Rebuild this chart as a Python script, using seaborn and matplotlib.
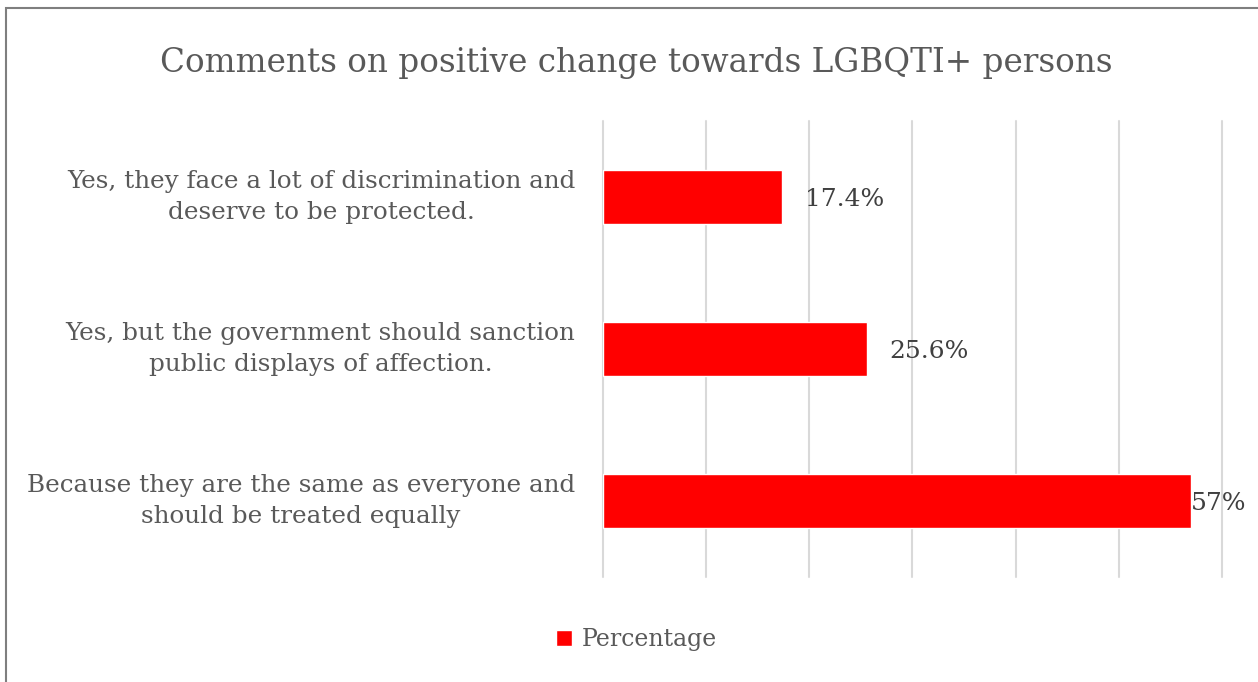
import matplotlib
matplotlib.use("Agg")
import matplotlib.pyplot as plt
import seaborn as sns
import pandas as pd
from matplotlib.patches import Rectangle, Patch

categories = [
    "Yes, they face a lot of discrimination and\ndeserve to be protected.",
    "Yes, but the government should sanction\npublic displays of affection.",
    "Because they are the same as everyone and\nshould be treated equally",
]
values = [0.174, 0.256, 0.57]
value_labels = ["17.4%", "25.6%", "57%"]

df = pd.DataFrame({"Comment": categories, "Percentage": values})

sns.set_theme(style="white")
plt.rcParams['font.family'] = ['DejaVu Serif']

fig = plt.figure(figsize=(12.58, 6.82), dpi=100)
ax = fig.add_axes([0.4793, 0.154, 0.492, 0.6686])

sns.barplot(data=df, x="Percentage", y="Comment", color="#ff0000",
            saturation=1, width=0.35, ax=ax, orient="h")

ax.set_xlim(0, 0.6)
ax.set_ylim(2.5, -0.5)
ax.set_xticks([0, 0.1, 0.2, 0.3, 0.4, 0.5, 0.6])
ax.set_xticklabels([])
ax.grid(axis="x", color="#d9d9d9", linewidth=1.5)
ax.set_axisbelow(True)
for gl in ax.get_xgridlines():
    gl.set_clip_on(False)
for s in ax.spines.values():
    s.set_visible(False)
ax.tick_params(axis="both", length=0)
ax.tick_params(axis="y", labelsize=17.7, labelcolor="#595959", pad=20)
ax.set_xlabel("")
ax.set_ylabel("")
for t in ax.get_yticklabels():
    t.set_horizontalalignment("right")
    t.set_verticalalignment("center")
    t.set_multialignment("center")
    t.set_linespacing(1.4)

pads = [16, 16, 0]
for i, (v, lab) in enumerate(zip(values, value_labels)):
    ax.annotate(lab, xy=(v, i), xytext=(pads[i], -2), textcoords="offset points",
                ha="left", va="center", fontsize=18, color="#404040")

fig.text(0.506, 0.908, "Comments on positive change towards LGBQTI+ persons",
         ha="center", va="center", fontsize=23.5, color="#595959")

fig.legend(handles=[Patch(facecolor="#ff0000", label="Percentage")],
           loc="center", bbox_to_anchor=(0.506, 0.062), frameon=False,
           fontsize=17, labelcolor="#595959", handlelength=0.7, handleheight=0.7,
           handletextpad=0.4)

fig.patches.append(Rectangle((6 / 1258, -0.05), 1.1, 1 - 8 / 682 + 0.05,
                             transform=fig.transFigure, fill=False,
                             edgecolor="#7f7f7f", linewidth=1.5))

fig.savefig("out.png", dpi=100)
